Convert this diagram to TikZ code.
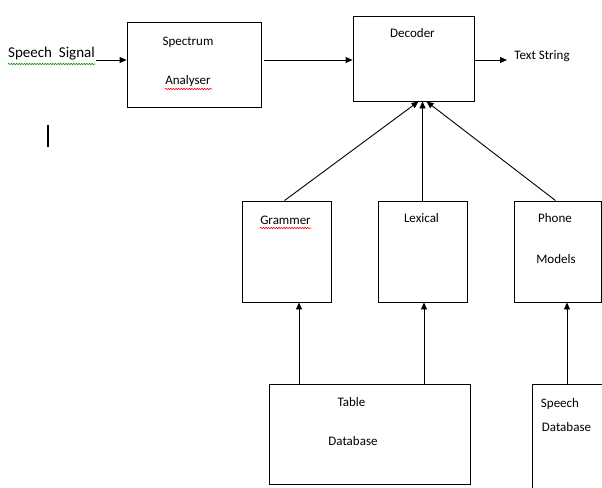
\documentclass[tikz,border=0pt]{standalone}
\usepackage{fontspec}
\setmainfont{Carlito}
\usetikzlibrary{arrows.meta,decorations.pathmorphing}

\tikzset{
  blk/.style={draw,rectangle,line width=0.9pt,inner sep=0pt},
  lbl/.style={inner sep=0pt,font=\fontsize{13}{15}\selectfont},
  squiggle/.style={line width=0.6pt,decorate,decoration={snake,amplitude=0.7pt,segment length=2.6pt}}
}

\begin{document}
\begin{tikzpicture}[x=1pt,y=-1pt,line width=0.9pt,>={Triangle[length=7pt,width=6pt]}]
            \useasboundingbox (0,0) rectangle (602,487);
            \clip (0,0) rectangle (602,487);
            % boxes
            \node[blk,minimum width=134,minimum height=85] at (194,64.5) (spectrum) {};
            \node[blk,minimum width=121,minimum height=85] at (413.5,58.5) (decoder) {};
            \node[blk,minimum width=89,minimum height=101] at (286.5,251.5) (grammer) {};
            \node[blk,minimum width=89,minimum height=101] at (422.5,251.5) (lexical) {};
            \node[blk,minimum width=87,minimum height=101] at (557.5,251.5) (phone) {};
            \node[blk,minimum width=201,minimum height=100] at (369.5,434) (table) {};
            \node[blk,minimum width=100,minimum height=120] at (582,444) (speechdb) {};
            % texts
            \node[lbl,font=\fontsize{15}{17}\selectfont] at (51.5,54) (signal) {Speech\ \ Signal};
            \node[lbl] at (188,42) (spectrumtop) {Spectrum};
            \node[lbl] at (188,81) (spectrumbot) {Analyser};
            \node[lbl] at (412.5,33.5) (decodertxt) {Decoder};
            \node[lbl,anchor=west] at (514,56.5) (textstr) {Text String};
            \node[lbl] at (285.5,220) (grammertxt) {Grammer};
            \node[lbl] at (421.5,218.5) (lexicaltxt) {Lexical};
            \node[lbl] at (555,218.5) (phonetop) {Phone};
            \node[lbl] at (556,259.5) (phonebot) {Models};
            \node[lbl] at (351.5,402) (tabletop) {Table};
            \node[lbl] at (353,441.5) (tablebot) {Database};
            \node[lbl] at (560,404) (speechdbtop) {Speech};
            \node[lbl] at (566.5,427.5) (speechdbbot) {Database};
            % spell check marks
            \draw[squiggle,green!60!black] (8,64) -- (95,64);
            \draw[squiggle,red] (165,89) -- (212,89);
            \draw[squiggle,red] (260,228) -- (311,228);
            % cursor
            \draw[line width=1.6pt] (48,125) -- (48,147);
            % arrows
            \coordinate (sigout) at (96,60);
            \draw[->] (sigout) to (sigout -| spectrum.west);
            \draw[->] ([xshift=3]spectrum.east |- sigout) to (decoder.west |- sigout);
            \draw[->] (decoder.east |- sigout) to ([xshift=-7]textstr.west |- sigout);
            \draw[->] ([xshift=-2]grammer.north) to ([xshift=5]decoder.south);
            \draw[->] (lexical.north) to (lexical.north |- decoder.south);
            \draw[->] ([xshift=-2]phone.north) to ([xshift=13]decoder.south);
            \draw[->] ([xshift=-70.5]table.north) to ([xshift=-70.5]table.north |- grammer.south);
            \draw[->] ([xshift=54.5]table.north) to ([xshift=54.5]table.north |- lexical.south);
            \draw[->] ([xshift=-15]speechdb.north) to ([xshift=-15]speechdb.north |- phone.south);
        \end{tikzpicture}
\end{document}
